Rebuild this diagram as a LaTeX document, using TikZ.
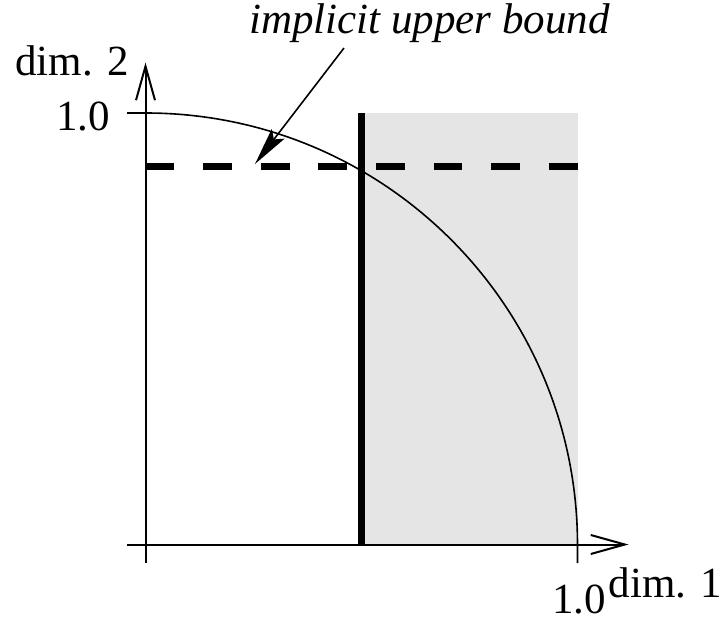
\documentclass[tikz,border=0pt]{standalone}
\usepackage{fontspec}
\setmainfont{Liberation Serif}
\newfontfamily\timesfont{Liberation Serif}
\usetikzlibrary{arrows.meta}
\definecolor{areagray}{HTML}{E5E5E5}
\begin{document}
\begin{tikzpicture}[x=1pt,y=-1pt,
  lbl/.style={inner sep=0pt, font=\timesfont\fontsize{43}{50}\selectfont},
  axisline/.style={line width=2pt, -{Straight Barb[length=34pt,width=19pt,line width=2pt]}},
  thin/.style={line width=1.6pt},
  boldline/.style={line width=7pt},
  dashline/.style={line width=7pt, dash pattern=on 28.8pt off 28.8pt},
  pointer/.style={line width=1.6pt, -{Stealth[length=38pt,width=16pt,inset=7pt]}}]
\useasboundingbox (0,0) rectangle (721,621);
% shaded region
\fill[fill=areagray] (361,113) rectangle (577.5,544.5);
% axes
\coordinate (xstart) at (127,544.5);
\coordinate (xend) at (628.5,544.5);
\coordinate (ystart) at (145.5,563);
\coordinate (yend) at (145.5,62.5);
\draw[axisline] (xstart) -- (xend);
\draw[axisline] (ystart) -- (yend);
% ticks and arc
\coordinate (ytick) at (127,113);
\coordinate (arctop) at (145.5,113);
\coordinate (xtick) at (577.5,563);
\draw[thin] (ytick) -- (arctop) arc[start angle=90, end angle=0, radius=432pt] -- (xtick);
% thick vertical line
\coordinate (vtop) at (361,113);
\coordinate (vbot) at (361,544.5);
\draw[boldline] (vtop) -- (vbot);
% dashed line
\coordinate (dleft) at (145.5,166.5);
\coordinate (dright) at (577.5,166.5);
\draw[dashline] (dleft) -- (dright);
% labels
\node[lbl, anchor=base] (ub) at (429.5,33) {\itshape implicit upper bound};
\node[lbl, anchor=base] (d2) at (72,75) {dim. 2};
\node[lbl, anchor=base] (y1) at (83,130) {1.0};
\node[lbl, anchor=base] (x1) at (579,613) {1.0};
\node[lbl, anchor=base] (d1) at (665.5,597) {dim. 1};
% pointer
\coordinate (pstart) at (344,48);
\coordinate (ptip) at (255,164);
\draw[pointer] (pstart) -- (ptip);
\end{tikzpicture}
\end{document}
